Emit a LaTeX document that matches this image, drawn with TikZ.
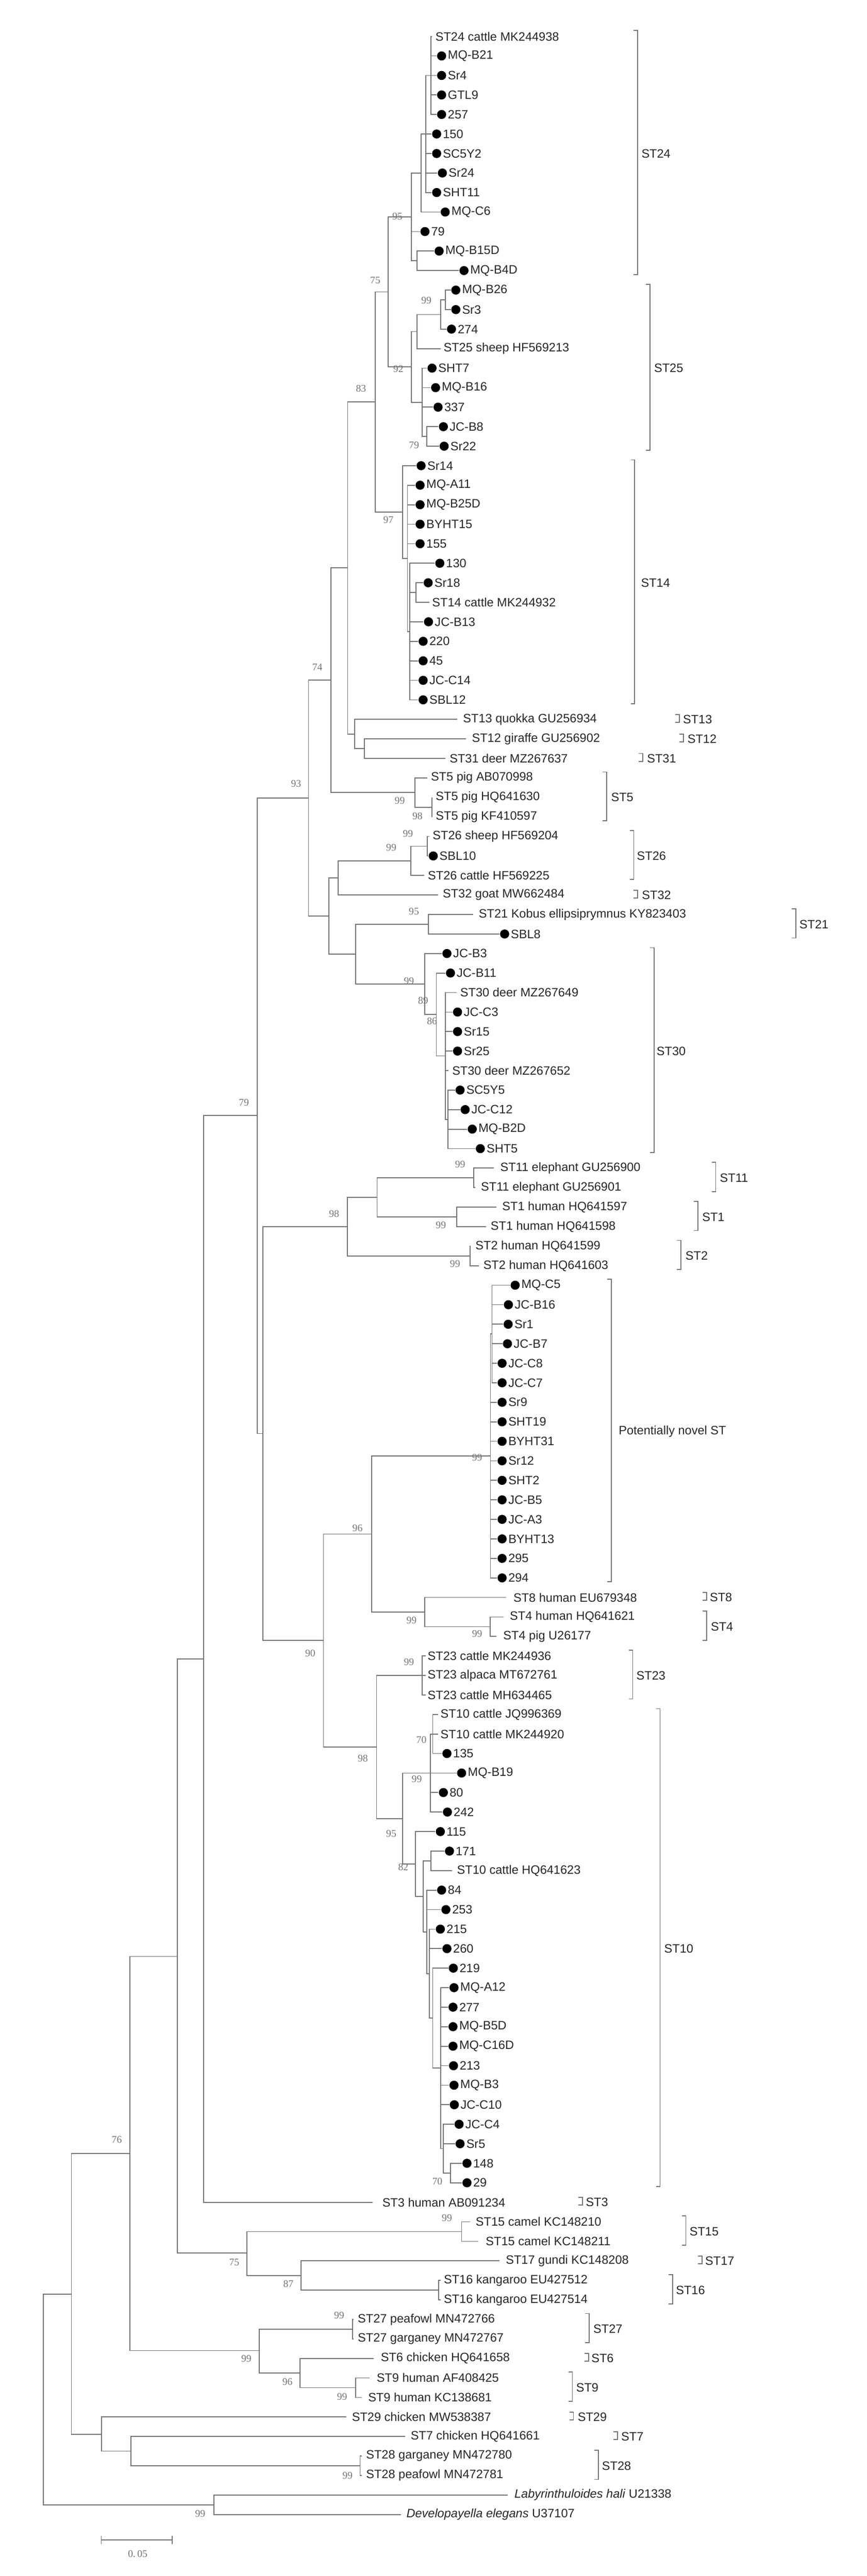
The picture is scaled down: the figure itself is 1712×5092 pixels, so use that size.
\documentclass[tikz,border=0pt]{standalone}
\usepackage{fontspec}
\setmainfont{Liberation Sans}
\newfontfamily\bsfont{Liberation Serif}
\begin{document}
\begin{tikzpicture}[
  br/.style={draw=black!55,line width=0.9pt},
  lab/.style={font=\fontsize{12}{12}\selectfont,text=black!85,inner sep=0pt,anchor=west},
  bs/.style={font=\bsfont\fontsize{10}{10}\selectfont,text=black!55,inner sep=0pt},
  brk/.style={draw=black!55,line width=0.9pt},
  dot/.style={fill=black}]
\begin{scope}[x=0.5pt,y=-0.5pt]
\useasboundingbox (0,0) rectangle (1712,5092);
\end{scope}
% ---------- tree scope: x in px, y in leaf index ----------
\begin{scope}[x=0.5pt,y=-19.285pt,yshift=-16.715pt]
\newcommand\T[4]{\coordinate (t#1) at (#2,#1); \node[lab] (x#1) at (#3,#1) {#4};}
\newcommand\D[3]{\coordinate (t#1) at ({#2-10},#1); \fill[dot] (#2,#1) circle[radius=4.5pt]; \node[lab] (x#1) at ({#2+12},#1) {#3};}
\newcommand\N[3]{\coordinate (#1) at (#2,#3);}
\newcommand\E[2]{\foreach \c in {#2}{\draw[br] (#1) |- (\c);}}
\newcommand\Br[5]{\draw[brk] ({#1-8},{#2-0.3}) -- (#1,{#2-0.3}) -- (#1,{#3+0.2}) -- ({#1-8},{#3+0.2}); \node[lab] (b#2) at (#5,{(#2+#3)/2}) {#4};}
\newcommand\Bs[4]{\draw[brk] ({#1-8},{#2-0.25}) -- (#1,{#2-0.25}) -- (#1,{#2+0.15}) -- ({#1-8},{#2+0.15}); \node[lab] (b#2) at (#4,#2) {#3};}
% leaves
\T{1}{853}{860}{ST24 cattle MK244938}
\D{2}{872.5}{MQ-B21}\D{3}{872.5}{Sr4}\D{4}{872.5}{GTL9}\D{5}{872.5}{257}
\D{6}{862.7}{150}\D{7}{862.7}{SC5Y2}\D{8}{874}{Sr24}\D{9}{862.7}{SHT11}
\D{10}{879.6}{MQ-C6}\D{11}{839.6}{79}\D{12}{867.6}{MQ-B15D}\D{13}{916.7}{MQ-B4D}
\D{14}{900.6}{MQ-B26}\D{15}{900.6}{Sr3}\D{16}{892}{274}
\T{17}{871}{876}{ST25 sheep HF569213}
\D{18}{853.6}{SHT7}\D{19}{860.6}{MQ-B16}\D{20}{865.5}{337}\D{21}{876}{JC-B8}\D{22}{877.5}{Sr22}
\D{23}{832}{Sr14}\D{24}{830}{MQ-A11}\D{25}{830}{MQ-B25D}\D{26}{830}{BYHT15}\D{27}{830}{155}
\D{28}{869}{130}\D{29}{846}{Sr18}\T{30}{848}{853.5}{ST14 cattle MK244932}
\D{31}{846.6}{JC-B13}\D{32}{836}{220}\D{33}{836}{45}\D{34}{836}{JC-C14}\D{35}{836}{SBL12}
\T{36}{903.6}{914.6}{ST13 quokka GU256934}
\T{37}{921}{932}{ST12 giraffe GU256902}
\T{38}{879.6}{888}{ST31 deer MZ267637}
\T{39}{844}{851}{ST5 pig AB070998}
\T{40}{853.6}{860.6}{ST5 pig HQ641630}
\T{41}{853.6}{860.6}{ST5 pig KF410597}
\T{42}{848}{854.5}{ST26 sheep HF569204}
\D{43}{856}{SBL10}
\T{44}{838.6}{845}{ST26 cattle HF569225}
\T{45}{865.5}{874.5}{ST32 goat MW662484}
\T{46}{935}{945.6}{ST21 Kobus ellipsiprymnus KY823403}
\D{47}{997}{SBL8}
\D{48}{883}{JC-B3}\D{49}{890}{JC-B11}\T{50}{902}{909}{ST30 deer MZ267649}
\D{51}{904}{JC-C3}\D{52}{904}{Sr15}\D{53}{904}{Sr25}\T{54}{886}{893}{ST30 deer MZ267652}
\D{55}{909}{SC5Y5}\D{56}{919}{JC-C12}\D{57}{933}{MQ-B2D}\D{58}{949}{SHT5}
\T{59}{976}{988}{ST11 elephant GU256900}\T{60}{939}{950}{ST11 elephant GU256901}
\T{61}{981}{992}{ST1 human HQ641597}\T{62}{960}{969}{ST1 human HQ641598}
\T{63}{930}{939}{ST2 human HQ641599}\T{64}{946}{954.6}{ST2 human HQ641603}
\D{65}{1017.8}{MQ-C5}\D{66}{1004.5}{JC-B16}\D{67}{1004}{Sr1}\D{68}{1002.6}{JC-B7}
\D{69}{992}{JC-C8}\D{70}{992}{JC-C7}\D{71}{992}{Sr9}\D{72}{992}{SHT19}\D{73}{992}{BYHT31}
\D{74}{992}{Sr12}\D{75}{992}{SHT2}\D{76}{992}{JC-B5}\D{77}{992}{JC-A3}\D{78}{992}{BYHT13}
\D{79}{992}{295}\D{80}{992}{294}
\T{81}{1000}{1014}{ST8 human EU679348}
\T{82}{995}{1007}{ST4 human HQ641621}\T{83}{981}{994}{ST4 pig U26177}
\T{84}{841}{844.5}{ST23 cattle MK244936}\T{85}{841}{844.5}{ST23 alpaca MT672761}\T{86}{841}{844.5}{ST23 cattle MH634465}
\T{87}{865.5}{870}{ST10 cattle JQ996369}\T{88}{865.5}{870}{ST10 cattle MK244920}
\D{89}{883}{135}\D{90}{912}{MQ-B19}\D{91}{876}{80}\D{92}{884}{242}
\D{93}{870}{115}\D{94}{888}{171}\T{95}{893.6}{902.6}{ST10 cattle HQ641623}
\D{96}{872.5}{84}\D{97}{881}{253}\D{98}{870}{215}\D{99}{883}{260}\D{100}{895.6}{219}
\D{101}{897}{MQ-A12}\D{102}{895}{277}\D{103}{895}{MQ-B5D}\D{104}{895}{MQ-C16D}\D{105}{896}{213}
\D{106}{897}{MQ-B3}\D{107}{897.6}{JC-C10}\D{108}{907}{JC-C4}\D{109}{909}{Sr5}\D{110}{922.6}{148}\D{111}{922.6}{29}
\T{112}{735.8}{755}{ST3 human AB091234}
\T{113}{928.7}{939.5}{ST15 camel KC148210}\T{114}{945}{959.4}{ST15 camel KC148211}
\T{115}{986.7}{999}{ST17 gundi KC148208}
\T{116}{870.6}{876.5}{ST16 kangaroo EU427512}\T{117}{870.6}{876.5}{ST16 kangaroo EU427514}
\T{118}{699}{706.5}{ST27 peafowl MN472766}\T{119}{699}{706.5}{ST27 garganey MN472767}
\T{120}{738}{752}{ST6 chicken HQ641658}
\T{121}{729.7}{743.8}{ST9 human AF408425}\T{122}{714.7}{727}{ST9 human KC138681}
\T{123}{684}{695}{ST29 chicken MW538387}
\T{124}{800}{811}{ST7 chicken HQ641661}
\T{125}{714.7}{723}{ST28 garganey MN472780}\T{126}{714.7}{723}{ST28 peafowl MN472781}
\T{127}{1003}{1016}{\textit{Labyrinthuloides hali} U21338}
\T{128}{792}{802.6}{\textit{Developayella elegans} U37107}
% internal nodes
\N{N1}{851.5}{3}\N{N2}{841}{6}\N{N3}{832}{8}\N{nC}{823.5}{12.5}\N{nA}{813}{10.25}
\N{nE}{879.6}{14.5}\N{nD}{871}{15.25}\N{nF}{823.5}{16.125}\N{nG}{843}{21.5}\N{nH}{834}{19.75}
\N{nI}{813}{17.94}\N{n75}{767}{14.09}
\N{nP}{821.6}{29.5}\N{nM}{810}{31.5}\N{nK}{805}{27.75}\N{nJ}{795.4}{25.375}\N{n83}{741}{19.73}
\N{nR}{720}{37.5}\N{nQ}{700.7}{36.75}\N{nS}{687}{28.24}
\N{nU}{853.6}{40.5}\N{nT}{819.8}{39.75}\N{n74}{653.7}{33.99}
\N{nZ}{844}{42.5}\N{nY}{811.5}{43.25}\N{nW}{667.7}{44.125}
\N{n21}{845.9}{46.5}\N{nQq}{884.7}{56.5}\N{nPp}{879.6}{53.25}\N{nO}{862}{51.125}\N{n30}{838.8}{49.56}
\N{nX}{702.8}{48.03}\N{nV}{650}{46.08}\N{n93}{609.5}{40.03}
\N{e11}{935.7}{59.5}\N{e1}{902}{61.5}\N{nDD}{745}{60.5}\N{e2}{928.7}{63.5}\N{n98}{686.6}{62}
\N{nsub}{972}{67.5}\N{nov}{969}{73.75}\N{nFF}{968.6}{82.5}\N{nEE}{839}{81.75}\N{n96}{734}{77.75}
\N{e23}{834}{85}\N{nJJ}{855}{88}\N{nHH}{850}{90}
\N{nRR}{890}{110.5}\N{nQQ}{876}{109.25}\N{nPP}{871}{105.125}\N{nOO}{855}{102.56}\N{nNN}{848}{100.28}
\N{nMM}{843}{98.14}\N{nLL}{851.5}{94.5}\N{nKK}{836}{96.32}\N{nII}{821}{94.66}\N{nGG}{795.4}{92.33}
\N{n98b}{744}{88.67}\N{n90}{639}{83.2}\N{nCC}{519.7}{72.6}\N{n79}{507.8}{56.3}\N{nZZ}{402.5}{84.15}
\N{e15}{912}{113.5}\N{nGGG}{866.5}{116.5}\N{nFFF}{594.5}{115.75}\N{nAAA}{488}{114.6}\N{nYY}{350}{99.4}
\N{nHHH}{696.5}{118.5}\N{nJJJ}{703}{121.5}\N{nIII}{593}{120.75}\N{nBBB}{512}{119.6}\N{n76}{257}{109.5}
\N{nLLL}{711.4}{125.5}\N{nKKK}{258.7}{124.75}\N{nDDD}{200.7}{123.9}\N{nCCC}{141}{116.7}
\N{nEEE}{423}{127.5}\N{root}{85.4}{122.1}
% edges
\E{N1}{t1,t2,t3,t4,t5}\E{N2}{N1,t6,t7,t8,t9}\E{N3}{N2,t10}\E{nC}{t12,t13}\E{nA}{N3,t11,nC}
\E{nE}{t14,t15}\E{nD}{nE,t16}\E{nF}{nD,t17}\E{nG}{t21,t22}\E{nH}{t18,t19,t20,nG}\E{nI}{nF,nH}\E{n75}{nA,nI}
\E{nP}{t29,t30}\E{nM}{t28,nP,t31,t32,t33,t34,t35}\E{nK}{t24,t25,t26,t27,nM}\E{nJ}{t23,nK}\E{n83}{n75,nJ}
\E{nR}{t37,t38}\E{nQ}{t36,nR}\E{nS}{n83,nQ}\E{nU}{t40,t41}\E{nT}{t39,nU}\E{n74}{nS,nT}
\E{nZ}{t42,t43}\E{nY}{nZ,t44}\E{nW}{nY,t45}\E{n21}{t46,t47}
\E{nQq}{t55,t56,t57,t58}\E{nPp}{t50,t51,t52,t53,t54,nQq}\E{nO}{t49,nPp}\E{n30}{t48,nO}
\E{nX}{n21,n30}\E{nV}{nW,nX}\E{n93}{n74,nV}
\E{e11}{t59,t60}\E{e1}{t61,t62}\E{nDD}{e11,e1}\E{e2}{t63,t64}\E{n98}{nDD,e2}
\E{nsub}{t65,t66,t67,t68,t69,t70}\E{nov}{nsub,t71,t72,t73,t74,t75,t76,t77,t78,t79,t80}
\E{nFF}{t82,t83}\E{nEE}{t81,nFF}\E{n96}{nov,nEE}
\E{e23}{t84,t85,t86}\E{nJJ}{t87,t88,t89}\E{nHH}{nJJ,t90,t91,t92}
\E{nRR}{t110,t111}\E{nQQ}{t108,t109,nRR}\E{nPP}{t101,t102,t103,t104,t105,t106,t107,nQQ}
\E{nOO}{t100,nPP}\E{nNN}{t98,t99,nOO}\E{nMM}{t96,t97,nNN}\E{nLL}{t94,t95}\E{nKK}{nLL,nMM}
\E{nII}{t93,nKK}\E{nGG}{nHH,nII}\E{n98b}{e23,nGG}\E{n90}{n96,n98b}\E{nCC}{n98,n90}
\E{n79}{n93,nCC}\E{nZZ}{n79,t112}
\E{e15}{t113,t114}\E{nGGG}{t116,t117}\E{nFFF}{t115,nGGG}\E{nAAA}{e15,nFFF}\E{nYY}{nZZ,nAAA}
\E{nHHH}{t118,t119}\E{nJJJ}{t121,t122}\E{nIII}{t120,nJJJ}\E{nBBB}{nHHH,nIII}\E{n76}{nYY,nBBB}
\E{nLLL}{t125,t126}\E{nKKK}{t124,nLLL}\E{nDDD}{t123,nKKK}\E{nCCC}{n76,nDDD}
\E{nEEE}{t127,t128}\E{root}{nCCC,nEEE}
% brackets
\Br{1260}{1}{13}{ST24}{1267}
\Br{1284}{14}{22}{ST25}{1292}
\Br{1254}{23}{35}{ST14}{1266}
\Bs{1342}{36}{ST13}{1349}
\Bs{1350}{37}{ST12}{1358}
\Bs{1270}{38}{ST31}{1278}
\Br{1199}{39}{41}{ST5}{1207}
\Br{1252}{42}{44}{ST26}{1258}
\Bs{1260}{45}{ST32}{1268}
\Br{1572}{46}{47}{ST21}{1579}
\Br{1292}{48}{58}{ST30}{1297}
\Br{1414}{59}{60}{ST11}{1422}
\Br{1379}{61}{62}{ST1}{1387}
\Br{1345}{63}{64}{ST2}{1354}
\Br{1208}{65}{80}{Potentially novel ST}{1222}
\Bs{1396}{81}{ST8}{1402}
\Br{1396}{82}{83}{ST4}{1404}
\Br{1250}{84}{86}{ST23}{1257}
\Br{1304}{87}{111}{ST10}{1312}
\Bs{1151}{112}{ST3}{1157}
\Br{1355}{113}{114}{ST15}{1362}
\Bs{1387}{115}{ST17}{1393}
\Br{1329}{116}{117}{ST16}{1335}
\Br{1164}{118}{119}{ST27}{1172}
\Bs{1163}{120}{ST6}{1168}
\Br{1131}{121}{122}{ST9}{1138}
\Bs{1133}{123}{ST29}{1141}
\Bs{1220}{124}{ST7}{1227}
\Br{1182}{125}{126}{ST28}{1189}
\end{scope}
% ---------- bootstrap values and scale (px) ----------
\begin{scope}[x=0.5pt,y=-0.5pt]
\foreach \x/\y/\v [count=\i] in {785/428/95,741.4/554/75,842.4/594/99,787/729/92,713.3/768/83,818/879.5/79,
 767.3/1027.4/97,627/1319/74,585/1548.7/93,789.8/1583/99,824.8/1613/98,806/1647.4/99,773/1675/99,
 817.8/1801.8/95,808/1939.6/99,836/1978/89,853.6/2018/86,481.8/2179/79,909/2302/99,660/2399/98,871/2421.8/99,899/2498.7/99,
 942.7/2881/99,706.3/3020.5/96,813/3202.5/99,942.7/3229.5/99,613/3268.5/90,808/3285.7/99,716.8/3476/98,832.6/3439.6/70,823.4/3516.5/99,
 773/3624.4/95,796.8/3690.4/82,230.7/4229/76,864/4312/70,883/4384/99,
 462.7/4471.7/75,569.7/4514.6/87,670/4576.8/99,486.7/4662.6/99,568/4708/96,675.8/4738/99,686.6/4893.4/99,395.5/4969/99}
 {\node[bs] (bv\i) at (\x,\y) {\v};}
\coordinate (sa) at (200,5021); \coordinate (sb) at (340,5021);
\draw[br] (sa) -- (sb);
\draw[br] (200,5013) -- (200,5029); \draw[br] (340,5013) -- (340,5029);
\node[bs] (sc) at (272,5048) {0.\,05};
\end{scope}
\end{tikzpicture}
\end{document}
